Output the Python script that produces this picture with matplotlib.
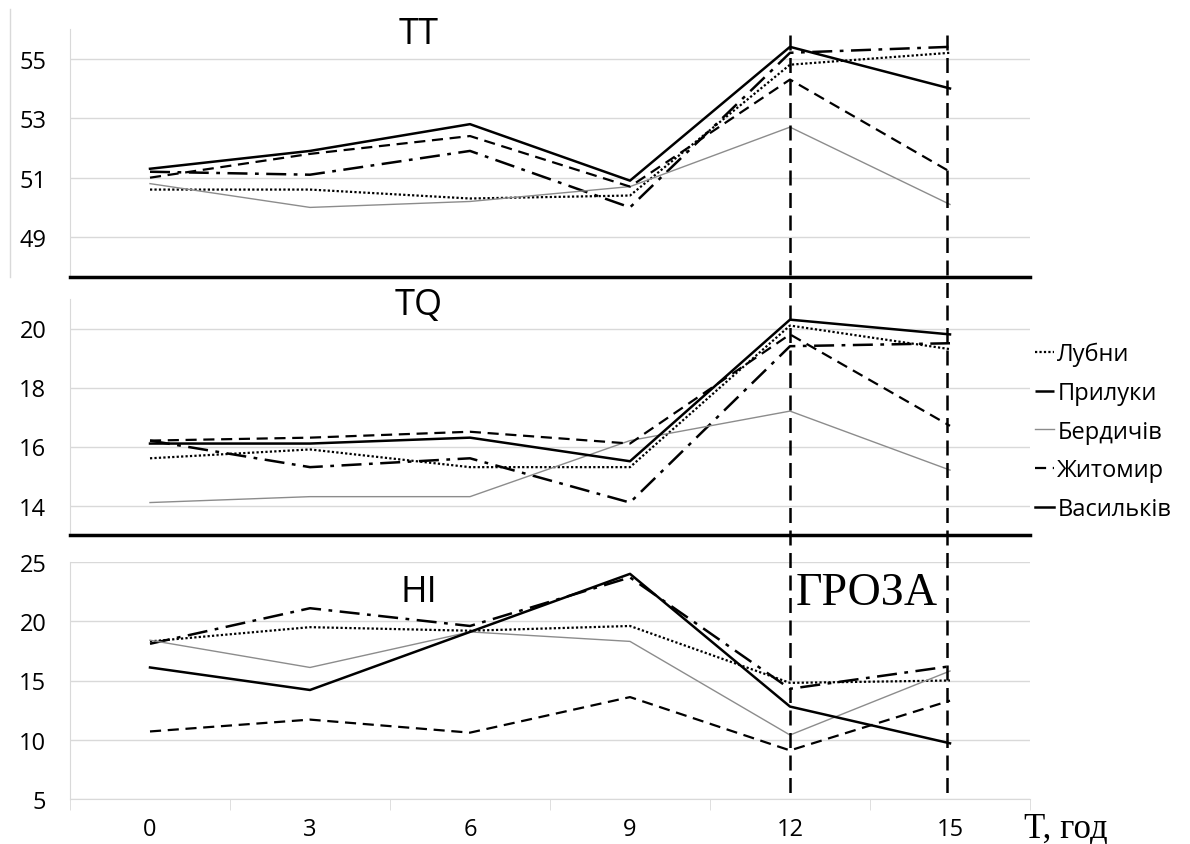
import numpy as np
import matplotlib.pyplot as plt
from matplotlib.lines import Line2D
from matplotlib.transforms import blended_transform_factory

plt.rcParams['font.family'] = ['Open Sans', 'DejaVu Sans']

hours = [0, 3, 6, 9, 12, 15]
stations = ['Лубни', 'Прилуки', 'Бердичів', 'Житомир', 'Васильків']

# TT index
tt_lubny = [50.6, 50.6, 50.3, 50.4, 54.8, 55.2]
tt_pryluky = [51.2, 51.1, 51.9, 50.0, 55.2, 55.4]
tt_berdychiv = [50.8, 50.0, 50.2, 50.7, 52.7, 50.1]
tt_zhytomyr = [51.0, 51.8, 52.4, 50.7, 54.3, 51.2]
tt_vasylkiv = [51.3, 51.9, 52.8, 50.9, 55.4, 54.0]

# TQ index
tq_lubny = [15.6, 15.9, 15.3, 15.3, 20.1, 19.3]
tq_pryluky = [16.2, 15.3, 15.6, 14.1, 19.4, 19.5]
tq_berdychiv = [14.1, 14.3, 14.3, 16.2, 17.2, 15.2]
tq_zhytomyr = [16.2, 16.3, 16.5, 16.1, 19.8, 16.7]
tq_vasylkiv = [16.1, 16.1, 16.3, 15.5, 20.3, 19.8]

# HI index
hi_lubny = [18.3, 19.5, 19.2, 19.6, 14.8, 15.0]
hi_pryluky = [18.1, 21.1, 19.6, 23.7, 14.3, 16.2]
hi_berdychiv = [18.4, 16.1, 19.1, 18.3, 10.4, 15.8]
hi_zhytomyr = [10.7, 11.7, 10.6, 13.6, 9.1, 13.3]
hi_vasylkiv = [16.1, 14.2, 19.1, 24.0, 12.8, 9.7]

styles = [
    dict(color='black', lw=1.6, ls=(0, (1, 1))),
    dict(color='black', lw=1.8, ls=(0, (8, 3, 1.5, 3))),
    dict(color='#8c8c8c', lw=1.0, ls='-'),
    dict(color='black', lw=1.6, ls=(0, (5, 3))),
    dict(color='black', lw=1.8, ls='-'),
]

W, H = 1190, 845
fig = plt.figure(figsize=(11.9, 8.45), dpi=100)
x0, x1 = 70 / W, 1030 / W
ax1 = fig.add_axes([x0, 1 - 278 / H, x1 - x0, 248 / H])
ax2 = fig.add_axes([x0, 1 - 536 / H, x1 - x0, 236 / H])
ax3 = fig.add_axes([x0, 1 - 800 / H, x1 - x0, 237 / H])

pos = np.arange(len(hours))
panels = [
    (ax1, [tt_lubny, tt_pryluky, tt_berdychiv, tt_zhytomyr, tt_vasylkiv], (47.66, 56), [49, 51, 53, 55], 'TT', 0.98),
    (ax2, [tq_lubny, tq_pryluky, tq_berdychiv, tq_zhytomyr, tq_vasylkiv], (13, 21), [14, 16, 18, 20], 'TQ', 0.975),
    (ax3, [hi_lubny, hi_pryluky, hi_berdychiv, hi_zhytomyr, hi_vasylkiv], (5, 25), [5, 10, 15, 20, 25], 'HI', 0.875),
]

for ax, series, ylim, yticks, title, ty in panels:
    for vals, st, name in zip(series, styles, stations):
        ax.plot(pos, vals, color=st['color'], lw=st['lw'], linestyle=st['ls'], label=name)
    ax.set_xlim(-0.5, 5.5)
    ax.set_ylim(*ylim)
    ax.set_yticks(yticks)
    ax.grid(axis='y', color='#d9d9d9', lw=1)
    ax.set_axisbelow(True)
    ax.spines['top'].set_visible(False)
    ax.spines['right'].set_visible(False)
    ax.spines['left'].set_color('#d9d9d9')
    ax.tick_params(axis='y', length=0, pad=17, labelsize=17)
    ax.text(0.363, ty, title, transform=ax.transAxes, ha='center', va='center', fontsize=26)
    ax.patch.set_alpha(0)

# separators between panels
for ax in (ax1, ax2):
    ax.set_xticks([])
    ax.spines['bottom'].set_color('black')
    ax.spines['bottom'].set_linewidth(2.5)

ax3.spines['bottom'].set_color('#d9d9d9')
ax3.set_xticks(pos)
ax3.set_xticklabels(hours)
ax3.set_xticks(np.arange(-0.5, 6, 1), minor=True)
ax3.tick_params(axis='x', which='major', length=0, pad=13, labelsize=17)
ax3.tick_params(axis='x', which='minor', length=8, color='#d9d9d9')

# left border line of the upper chart
fig.add_artist(Line2D([10 / W, 10 / W], [1 - 10 / H, 1 - 278 / H], color='#d9d9d9', lw=1))

# storm period markers
trans = blended_transform_factory(ax3.transData, fig.transFigure)
for xv in [4, 4.98]:
    fig.add_artist(Line2D([xv, xv], [1 - 36 / H, 1 - 798 / H], transform=trans,
                          color='black', lw=1.8, linestyle=(0, (6, 3))))

fig.text(867 / W, 1 - 594 / H, 'ГРОЗА', family='Liberation Serif', fontsize=33, ha='center', va='center')
fig.text(1066 / W, 1 - 830 / H, 'T, год', family='Liberation Serif', fontsize=25, ha='center', va='center')

handles = ax2.get_lines()
fig.legend(handles, stations, loc='upper left', bbox_to_anchor=(1035 / W, 1 - 343 / H),
           frameon=False, fontsize=17, handlelength=0.8, handletextpad=0.15,
           labelspacing=0.62, borderpad=0, borderaxespad=0)

fig.savefig('out.png', dpi=100)
